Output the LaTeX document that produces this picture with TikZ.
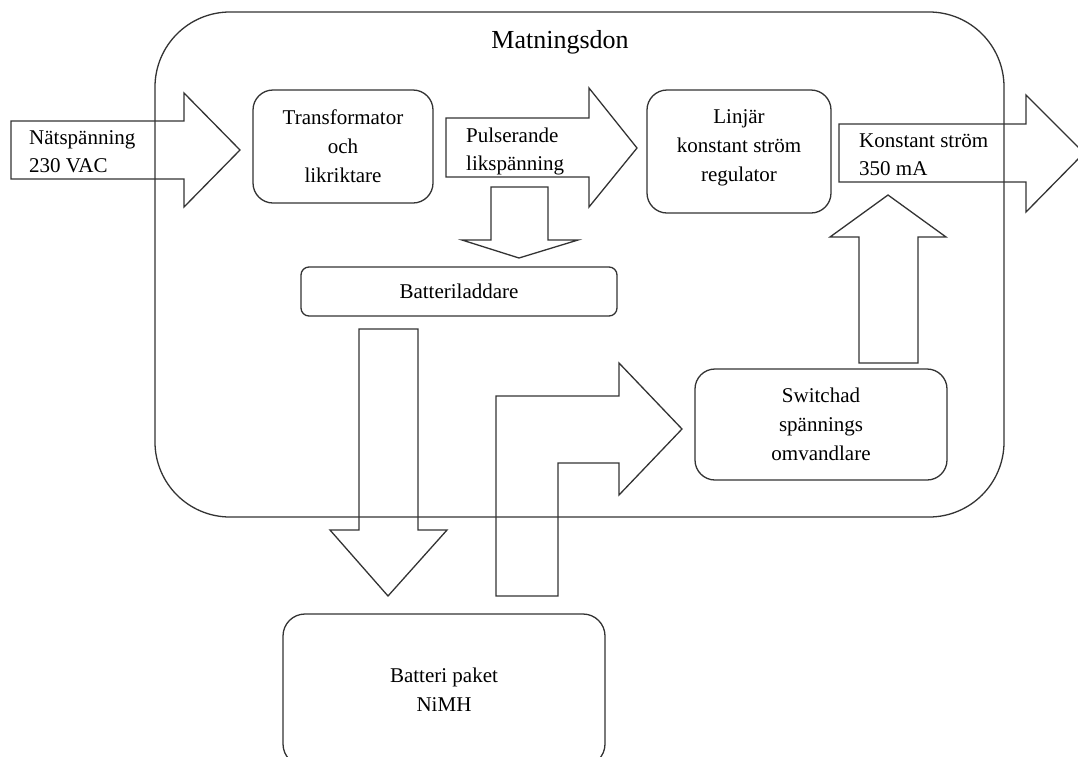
\documentclass[tikz,border=0pt]{standalone}
\usepackage{fontspec}
\setmainfont{Liberation Serif}
\begin{document}
\begin{tikzpicture}[x=1pt,y=-1pt,
  ln/.style={draw=black!80,line width=1.3pt},
  blk/.style={ln,rounded corners=20pt,inner sep=0pt,align=center,font=\fontsize{21}{29}\selectfont},
  txt/.style={inner sep=0pt,align=left,font=\fontsize{21}{28}\selectfont},
  barrow/.style={ln,line join=miter}]
\useasboundingbox (0,0) rectangle (1078,756);
\clip (0,0) rectangle (1078,756);
% outer container
\node[ln,rounded corners=75pt,minimum width=849pt,minimum height=505pt,inner sep=0pt] (outer) at (579.5,264.5) {};
\node[inner sep=0pt,anchor=base,font=\fontsize{26}{30}\selectfont] (title) at (560,48) {Matningsdon};
% boxes
\node[blk,minimum width=180pt,minimum height=113pt] (trafo) at (343,146.5) {Transformator\\och\\likriktare};
\node[blk,minimum width=184pt,minimum height=123pt] (linj) at (739,151.5) {};
\node[inner sep=0pt,align=center,font=\fontsize{21}{29}\selectfont] (linjtxt) at (739,148) {Linjär\\konstant ström\\regulator};
\node[blk,rounded corners=8pt,minimum width=316pt,minimum height=49pt] (ladd) at (459,291.5) {Batteriladdare};
\node[blk,minimum width=252pt,minimum height=111pt] (sw) at (821,424.5) {Switchad\\spännings\\omvandlare};
\node[blk,rounded corners=22pt,minimum width=322pt,minimum height=152pt] (batt) at (444,690) {Batteri paket\\NiMH};
% block arrows
\coordinate (a1) at (11,121);
\draw[barrow] (a1) -- (184,121) -- (184,93) -- (240,150) -- (184,207) -- (184,179) -- (11,179) -- cycle;
\node[txt,anchor=west] (natlbl) at (29,152) {Nätspänning\\230 VAC};
\coordinate (a2) at (446,118);
\draw[barrow] (a2) -- (589,118) -- (589,88) -- (637,148) -- (589,207) -- (589,177) -- (446,177) -- cycle;
\node[txt,anchor=west] (pulslbl) at (466,151.5) {Pulserande\\likspänning};
\coordinate (a3) at (491,187);
\draw[barrow] (a3) -- (548,187) -- (548,240) -- (578,240) -- (519,258) -- (462,240) -- (491,240) -- cycle;
\coordinate (a4) at (359,329);
\draw[barrow] (a4) -- (418,329) -- (418,530) -- (447,530) -- (388,596) -- (330,530) -- (359,530) -- cycle;
\coordinate (a5) at (496,596);
\draw[barrow] (a5) -- (496,396) -- (619,396) -- (619,363) -- (682,429) -- (619,495) -- (619,463) -- (558,463) -- (558,596) -- cycle;
\coordinate (a6) at (859,363);
\draw[barrow] (a6) -- (859,237) -- (830,237) -- (888,195) -- (946,237) -- (918,237) -- (918,363) -- cycle;
\coordinate (a7) at (839,124);
\draw[barrow] (a7) -- (1026,124) -- (1026,95) -- (1084,153) -- (1026,212) -- (1026,182) -- (839,182) -- cycle;
\node[txt,anchor=west] (konstlbl) at (859,155) {Konstant ström\\350 mA};
\end{tikzpicture}
\end{document}
